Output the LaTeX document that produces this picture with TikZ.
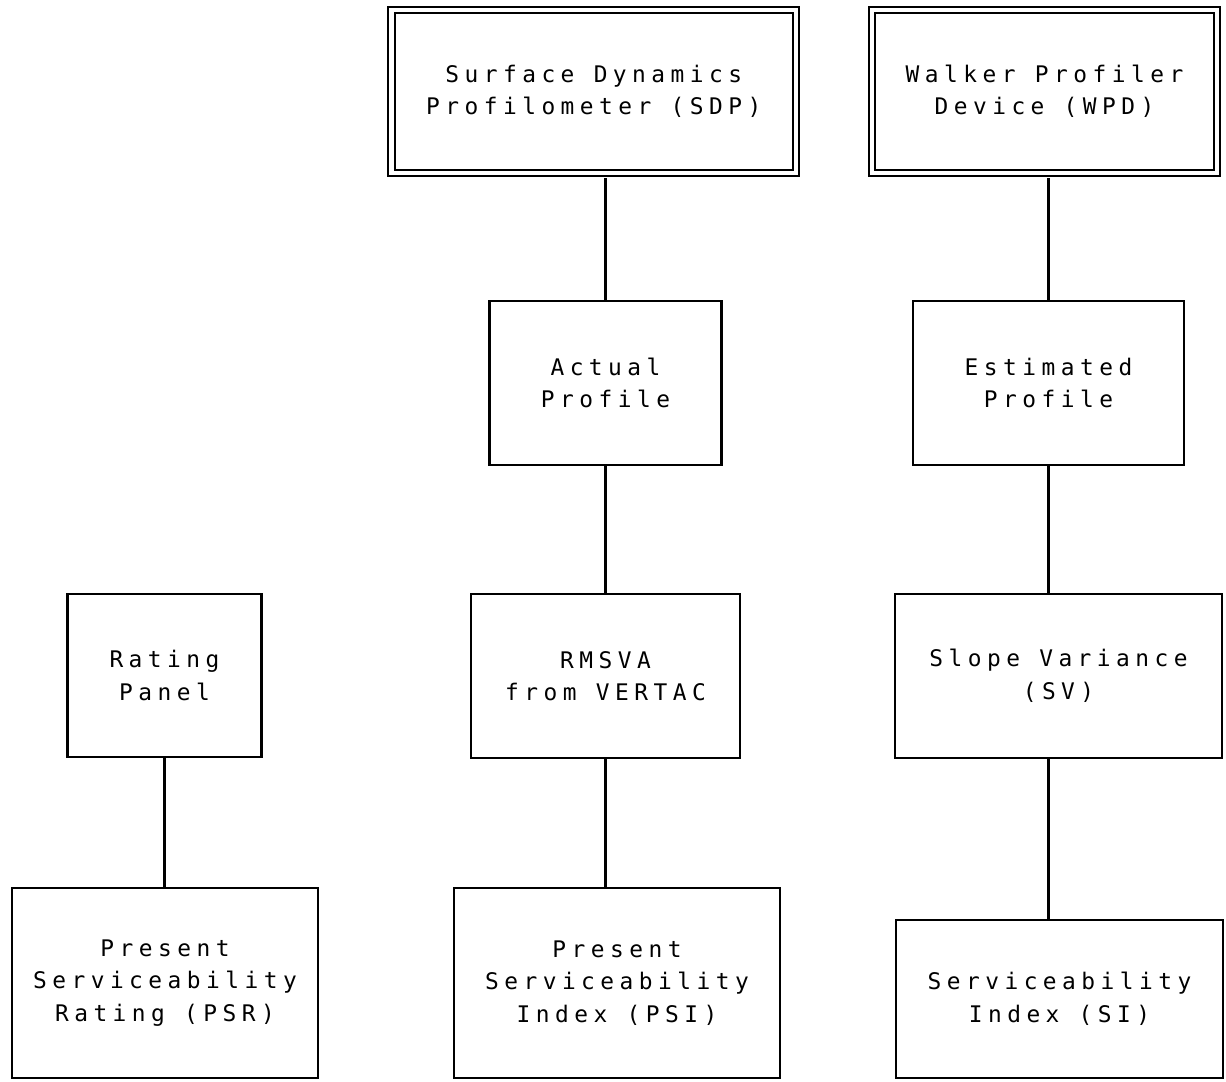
\documentclass[tikz,border=0pt]{standalone}
\usepackage{fontspec}
\usepackage{tikz}
\usetikzlibrary{positioning}
\newfontfamily\plotfont[LetterSpace=24]{DejaVu Sans Mono}
\tikzstyle{devicebox} = [rectangle, draw=black, double, double distance=2.6pt, line width=1.2pt, inner sep=0pt, align=center, font=\plotfont\fontsize{13}{18.5}\selectfont]
\tikzstyle{stagebox} = [rectangle, draw=black, line width=1.3pt, inner sep=0pt, align=center, font=\plotfont\fontsize{13}{18.5}\selectfont]
\tikzstyle{connector} = [line width=1.2pt]

\begin{document}
\begin{tikzpicture}
    \useasboundingbox (0,0) rectangle (24.52,-21.62);

    % Devices
    \node[devicebox, minimum width=8.09cm, minimum height=3.26cm] (sdp) at (11.875, -1.83) {Surface Dynamics\\Profilometer (SDP)};
    \node[devicebox, minimum width=6.90cm, minimum height=3.26cm] (wpd) at (20.89, -1.83) {Walker Profiler\\Device (WPD)};

    % Profiles
    \node[stagebox, minimum width=4.64cm, minimum height=3.28cm] (actual) at (12.11, -7.66) {Actual\\Profile};
    \node[stagebox, minimum width=5.42cm, minimum height=3.28cm] (estimated) at (20.97, -7.66) {Estimated\\Profile};

    % Measures
    \node[stagebox, minimum width=3.88cm, minimum height=3.26cm] (panel) at (3.29, -13.51) {Rating\\Panel};
    \node[stagebox, minimum width=5.38cm, minimum height=3.28cm] (rmsva) at (12.11, -13.52) {RMSVA\\from VERTAC};
    \node[stagebox, minimum width=6.54cm, minimum height=3.28cm] (slope) at (21.17, -13.52) {Slope Variance\\(SV)};

    % Indices
    \node[stagebox, minimum width=6.12cm, minimum height=3.80cm] (psr) at (3.30, -19.66) {Present\\Serviceability\\Rating (PSR)};
    \node[stagebox, minimum width=6.52cm, minimum height=3.80cm] (psi) at (12.34, -19.66) {Present\\Serviceability\\Index (PSI)};
    \node[stagebox, minimum width=6.54cm, minimum height=3.16cm] (si) at (21.19, -19.98) {Serviceability\\Index (SI)};

    % Connectors - left column
    \draw[connector] (panel.south) -- (panel.south |- psr.north);

    % Connectors - middle column
    \draw[connector, shorten <=2.5pt] (actual.north |- sdp.south) -- (actual.north);
    \draw[connector] (actual.south) -- (rmsva.north);
    \draw[connector] (rmsva.south) -- (rmsva.south |- psi.north);

    % Connectors - right column
    \draw[connector, shorten <=2.5pt] (estimated.north |- wpd.south) -- (estimated.north);
    \draw[connector] (estimated.south) -- (estimated.south |- slope.north);
    \draw[connector] (estimated.south |- slope.south) -- (estimated.south |- si.north);
\end{tikzpicture}
\end{document}
